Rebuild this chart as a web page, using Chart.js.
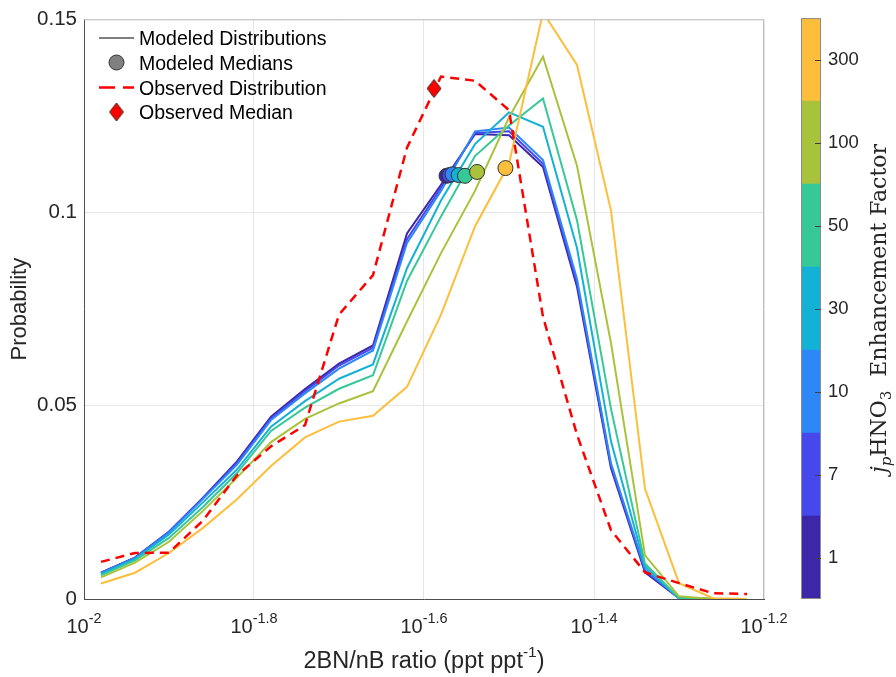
<!DOCTYPE html>
<html>
<head>
<meta charset="utf-8">
<script src="https://cdn.jsdelivr.net/npm/chart.js@4.4.1/dist/chart.umd.min.js"></script>
<style>
  html, body { margin: 0; padding: 0; background: #fff; }
  #wrap { position: relative; width: 896px; height: 677px; }
  #main { position: absolute; left: 0; top: 0; }
  #cbar { position: absolute; left: 780px; top: 0; }
</style>
</head>
<body>
<div id="wrap">
  <canvas id="main" width="896" height="677"></canvas>
  <canvas id="cbar" width="116" height="677"></canvas>
</div>
<script>
// bin centres of the 2BN/nB ratio (ppt/ppt)
const ratioBins = [0.010471, 0.011482, 0.012589, 0.013804, 0.015136, 0.016596, 0.018197,
    0.019953, 0.021878, 0.023988, 0.026303, 0.028840, 0.031623, 0.034674, 0.038019,
    0.041687, 0.045709, 0.050119, 0.054954, 0.060256];

// enhancement factors and their colours (colorbar, bottom to top)
const factorLabels = ['1', '7', '10', '30', '50', '100', '300'];
const factorColors = ['#3E26A8', '#4648EC', '#2D87F6', '#14B1D7', '#37C897', '#A8C33B', '#FDBE3B'];

// modeled distributions, one per enhancement factor
const prob1   = [0.0068, 0.0107, 0.0174, 0.0262, 0.0356, 0.0472, 0.0543, 0.0609, 0.0656, 0.0946, 0.1072, 0.1203, 0.1200, 0.1118, 0.0808, 0.0338, 0.0069, 0.0002, 0, 0];
const prob7   = [0.0068, 0.0107, 0.0174, 0.0261, 0.0352, 0.0467, 0.0538, 0.0604, 0.0650, 0.0931, 0.1064, 0.1206, 0.1210, 0.1126, 0.0818, 0.0344, 0.0074, 0.0002, 0, 0];
const prob10  = [0.0067, 0.0106, 0.0172, 0.0259, 0.0348, 0.0463, 0.0532, 0.0596, 0.0643, 0.0921, 0.1056, 0.1210, 0.1220, 0.1136, 0.0828, 0.0351, 0.0077, 0.0002, 0, 0];
const prob30  = [0.0065, 0.0103, 0.0167, 0.0250, 0.0335, 0.0446, 0.0512, 0.0570, 0.0607, 0.0856, 0.1031, 0.1177, 0.1259, 0.1222, 0.0908, 0.0408, 0.0085, 0.0002, 0, 0];
const prob50  = [0.0061, 0.0100, 0.0158, 0.0238, 0.0326, 0.0435, 0.0495, 0.0544, 0.0579, 0.0823, 0.0990, 0.1146, 0.1225, 0.1295, 0.0980, 0.0492, 0.0092, 0.0002, 0, 0];
const prob100 = [0.0056, 0.0094, 0.0148, 0.0228, 0.0314, 0.0406, 0.0466, 0.0506, 0.0538, 0.0718, 0.0895, 0.1056, 0.1246, 0.1403, 0.1121, 0.0662, 0.0113, 0.0007, 0, 0];
const prob300 = [0.0040, 0.0068, 0.0119, 0.0184, 0.0258, 0.0344, 0.0418, 0.0459, 0.0474, 0.0549, 0.0736, 0.0964, 0.1126, 0.1518, 0.1382, 0.1005, 0.0285, 0.0041, 0.0002, 0];
const modeled = [prob1, prob7, prob10, prob30, prob50, prob100, prob300];

// observed distribution
const obsProb = [0.0096, 0.0119, 0.0120, 0.0203, 0.0320, 0.0395, 0.0450, 0.0736, 0.0838, 0.1168, 0.1352, 0.1341, 0.1265, 0.0730, 0.0425, 0.0178, 0.0069, 0.0041, 0.0015, 0.0013];

// medians
const medianX = [0.02670, 0.02692, 0.02714, 0.02759, 0.02807, 0.02900, 0.03132];
const medianY = [0.1095, 0.1097, 0.1099, 0.1097, 0.1095, 0.1105, 0.1115];
const obsMedianX = [0.02581];
const obsMedianY = [0.1321];

// axes
const xTickExps = ['-2', '-1.8', '-1.6', '-1.4', '-1.2'];
const yTicks = [0, 0.05, 0.1, 0.15];
const yTickLabels = ['0', '0.05', '0.1', '0.15'];
const legendLabels = ['Modeled Distributions', 'Modeled Medians', 'Observed Distribution', 'Observed Median'];

const sans = '"Liberation Sans", Arial, Helvetica, sans-serif';
const serif = '"DejaVu Serif", "Liberation Serif", serif';
const textColor = '#262626';

function makeDiamond() {
    const c = document.createElement('canvas');
    c.width = 16; c.height = 20;
    const g = c.getContext('2d');
    g.beginPath();
    g.moveTo(8, 1); g.lineTo(15, 10); g.lineTo(8, 19); g.lineTo(1, 10); g.closePath();
    g.fillStyle = '#ff0000'; g.fill();
    g.strokeStyle = '#333'; g.lineWidth = 1; g.stroke();
    return c;
}
const diamond = makeDiamond();

const datasets = [];
modeled.forEach((arr, i) => {
    datasets.push({
        label: factorLabels[i],
        data: ratioBins.map((x, k) => ({ x, y: arr[k] })),
        borderColor: factorColors[i],
        borderWidth: 2,
        pointRadius: 0,
        fill: false,
        tension: 0
    });
});
datasets.push({
    label: 'Observed Distribution',
    data: ratioBins.map((x, k) => ({ x, y: obsProb[k] })),
    borderColor: '#ff0000',
    borderWidth: 2.5,
    borderDash: [9, 6],
    pointRadius: 0,
    fill: false
});
datasets.push({
    label: 'Modeled Medians',
    data: medianX.map((x, k) => ({ x, y: medianY[k] })),
    showLine: false,
    pointRadius: 7.5,
    pointBackgroundColor: factorColors,
    pointBorderColor: '#333',
    pointBorderWidth: 1
});
datasets.push({
    label: 'Observed Median',
    data: obsMedianX.map((x, k) => ({ x, y: obsMedianY[k] })),
    showLine: false,
    pointStyle: diamond,
    pointRadius: 9
});
// first dataset drawn first (bottom)
datasets.forEach((d, i) => { d.order = datasets.length - i; });

function drawPower(ctx, cx, baseY, base, exp, baseFont, supFont, rise) {
    ctx.font = baseFont;
    const wb = ctx.measureText(base).width;
    ctx.font = supFont;
    const ws = ctx.measureText(exp).width;
    const x0 = cx - (wb + ws) / 2;
    ctx.font = baseFont; ctx.fillText(base, x0, baseY);
    ctx.font = supFont; ctx.fillText(exp, x0 + wb, baseY - rise);
}

const figureText = {
    id: 'figureText',
    afterDraw(chart) {
        const { ctx, chartArea: a, scales: { x } } = chart;
        ctx.save();

        // box top/right
        ctx.strokeStyle = '#bdbdbd';
        ctx.lineWidth = 1;
        ctx.beginPath();
        ctx.moveTo(a.left, a.top + 0.5);
        ctx.lineTo(a.right - 0.5, a.top + 0.5);
        ctx.lineTo(a.right - 0.5, a.bottom);
        ctx.stroke();

        ctx.fillStyle = textColor;
        ctx.textAlign = 'left';
        ctx.textBaseline = 'alphabetic';

        // x tick labels 10^e
        xTickExps.forEach(e => {
            const px = x.getPixelForValue(Math.pow(10, Number(e)));
            drawPower(ctx, px, 633, '10', e, '20px ' + sans, '14.5px ' + sans, 10);
        });

        // x title
        const t1 = '2BN/nB ratio (ppt ppt', t2 = '-1', t3 = ')';
        const fBig = '23.5px ' + sans, fSup = '15.5px ' + sans;
        ctx.font = fBig; const w1 = ctx.measureText(t1).width, w3 = ctx.measureText(t3).width;
        ctx.font = fSup; const w2 = ctx.measureText(t2).width;
        let tx = (a.left + a.right) / 2 - (w1 + w2 + w3) / 2;
        ctx.font = fBig; ctx.fillText(t1, tx, 668);
        ctx.font = fSup; ctx.fillText(t2, tx + w1, 657);
        ctx.font = fBig; ctx.fillText(t3, tx + w1 + w2, 668);

        // y title
        ctx.save();
        ctx.translate(26, (a.top + a.bottom) / 2);
        ctx.rotate(-Math.PI / 2);
        ctx.textAlign = 'center';
        ctx.font = '22px ' + sans;
        ctx.fillText('Probability', 0, 0);
        ctx.restore();

        // legend
        const rows = [38, 62.5, 87.5, 112];
        const sx0 = 99, sx1 = 134, sxc = 116.5, lx = 139;
        ctx.lineWidth = 2;
        ctx.strokeStyle = '#808080';
        ctx.beginPath(); ctx.moveTo(sx0, rows[0]); ctx.lineTo(sx1, rows[0]); ctx.stroke();

        ctx.beginPath(); ctx.arc(sxc, rows[1], 7.5, 0, Math.PI * 2);
        ctx.fillStyle = '#808080'; ctx.fill();
        ctx.lineWidth = 1; ctx.strokeStyle = '#333'; ctx.stroke();

        ctx.save();
        ctx.strokeStyle = '#ff0000'; ctx.lineWidth = 2.5; ctx.setLineDash([16, 8]);
        ctx.beginPath(); ctx.moveTo(sx0, rows[2]); ctx.lineTo(sx1, rows[2]); ctx.stroke();
        ctx.restore();

        ctx.drawImage(diamond, sxc - diamond.width / 2, rows[3] - diamond.height / 2);

        ctx.fillStyle = '#000';
        ctx.font = '19.5px ' + sans;
        legendLabels.forEach((lab, i) => ctx.fillText(lab, lx, rows[i] + 7));

        ctx.restore();
    }
};

new Chart(document.getElementById('main'), {
    type: 'line',
    data: { datasets },
    options: {
        responsive: false,
        animation: false,
        events: [],
        layout: { padding: { left: 0, right: 132, top: 14, bottom: 0 } },
        scales: {
            x: {
                type: 'logarithmic',
                min: Math.pow(10, Number(xTickExps[0])),
                max: Math.pow(10, Number(xTickExps[xTickExps.length - 1])),
                afterBuildTicks: s => { s.ticks = xTickExps.map(e => ({ value: Math.pow(10, Number(e)) })); },
                afterFit: s => { s.height = 78; },
                ticks: { display: false },
                grid: { color: '#e6e6e6', drawTicks: false },
                border: { color: '#4d4d4d' }
            },
            y: {
                min: yTicks[0],
                max: yTicks[yTicks.length - 1],
                afterBuildTicks: s => { s.ticks = yTicks.map(v => ({ value: v })); },
                afterFit: s => { s.width = 84; },
                ticks: {
                    callback: (v, i) => yTickLabels[i],
                    font: { size: 20.5, family: sans },
                    color: textColor,
                    padding: 7
                },
                grid: { color: '#e6e6e6', drawTicks: false },
                border: { color: '#4d4d4d' }
            }
        },
        plugins: { legend: { display: false }, tooltip: { enabled: false } }
    },
    plugins: [figureText]
});

// colorbar
const colorbarFrame = {
    id: 'colorbarFrame',
    afterDraw(chart) {
        const { ctx, chartArea: a, scales: { y } } = chart;
        ctx.save();
        ctx.strokeStyle = '#8c8c8c';
        ctx.lineWidth = 1;
        ctx.strokeRect(a.left + 0.5, a.top + 0.5, a.right - a.left - 1, a.bottom - a.top - 1);
        ctx.strokeStyle = '#404040';
        factorLabels.forEach((f, i) => {
            const py = Math.round(y.getPixelForValue(i + 0.5)) + 0.5;
            ctx.beginPath(); ctx.moveTo(a.right - 6, py); ctx.lineTo(a.right, py); ctx.stroke();
        });

        // title: j_p HNO_3 Enhancement Factor
        const pieces = [
            { t: 'j', f: 'italic 22px ' + serif, dy: 0 },
            { t: 'p', f: 'italic 15px ' + serif, dy: 5 },
            { t: 'HNO', f: '22px ' + serif, dy: 0 },
            { t: '3', f: '15px ' + serif, dy: 5 },
            { t: '  Enhancement Factor', f: '22px ' + serif, dy: 0 }
        ];
        let total = 0;
        pieces.forEach(p => { ctx.font = p.f; p.w = ctx.measureText(p.t).width; total += p.w; });
        ctx.translate(106, (a.top + a.bottom) / 2);
        ctx.rotate(-Math.PI / 2);
        ctx.fillStyle = textColor;
        ctx.textBaseline = 'alphabetic';
        ctx.textAlign = 'left';
        let px = -total / 2;
        pieces.forEach(p => { ctx.font = p.f; ctx.fillText(p.t, px, p.dy); px += p.w; });
        ctx.restore();
    }
};

new Chart(document.getElementById('cbar'), {
    type: 'bar',
    data: {
        labels: [''],
        datasets: factorLabels.map((f, i) => ({
            label: f,
            data: [1],
            backgroundColor: factorColors[i],
            borderWidth: 0,
            barPercentage: 1,
            categoryPercentage: 1
        }))
    },
    options: {
        responsive: false,
        animation: false,
        events: [],
        layout: { padding: { left: 21, right: 0, top: 14, bottom: 78 } },
        scales: {
            x: { stacked: true, display: false },
            y: {
                stacked: true,
                position: 'right',
                min: 0,
                max: factorLabels.length,
                afterBuildTicks: s => { s.ticks = factorLabels.map((f, i) => ({ value: i + 0.5 })); },
                afterFit: s => { s.width = 75; },
                ticks: {
                    callback: (v, i) => factorLabels[i],
                    font: { size: 18.5, family: sans },
                    color: textColor,
                    padding: 7
                },
                grid: { display: false, drawTicks: false },
                border: { display: false }
            }
        },
        plugins: { legend: { display: false }, tooltip: { enabled: false } }
    },
    plugins: [colorbarFrame]
});
</script>
</body>
</html>
